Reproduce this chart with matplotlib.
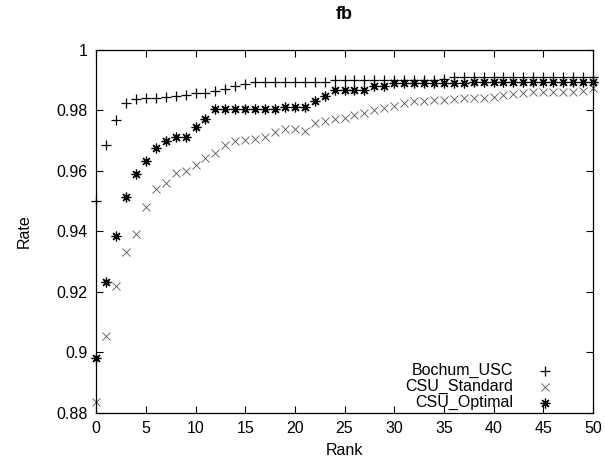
import numpy as np
import matplotlib
matplotlib.use("Agg")
import matplotlib.pyplot as plt
from matplotlib.ticker import FuncFormatter

plt.rcParams['font.family'] = ['Liberation Sans', 'DejaVu Sans']

# === data ===
rank = list(range(0, 51))

bochum_usc = [0.9500, 0.9686, 0.9769, 0.9824, 0.9837, 0.9840, 0.9840, 0.9845, 0.9846, 0.9850,
              0.9857, 0.9857, 0.9865, 0.9870, 0.9880, 0.9888, 0.9892, 0.9892, 0.9892, 0.9892,
              0.9893, 0.9893, 0.9893, 0.9895, 0.9900, 0.9900, 0.9900, 0.9900, 0.9900, 0.9900,
              0.9900, 0.9900, 0.9900, 0.9900, 0.9900, 0.9902, 0.9910, 0.9911, 0.9911, 0.9911,
              0.9911, 0.9911, 0.9911, 0.9911, 0.9911, 0.9911, 0.9911, 0.9911, 0.9911, 0.9911,
              0.9911]

csu_standard = [0.8837, 0.9055, 0.9218, 0.9333, 0.9390, 0.9480, 0.9540, 0.9560, 0.9592, 0.9598,
                0.9618, 0.9643, 0.9658, 0.9686, 0.9700, 0.9702, 0.9705, 0.9713, 0.9727, 0.9738,
                0.9738, 0.9733, 0.9758, 0.9763, 0.9770, 0.9774, 0.9785, 0.9790, 0.9802, 0.9806,
                0.9813, 0.9825, 0.9830, 0.9830, 0.9835, 0.9835, 0.9838, 0.9840, 0.9840, 0.9842,
                0.9845, 0.9850, 0.9855, 0.9857, 0.9860, 0.9860, 0.9860, 0.9860, 0.9862, 0.9865,
                0.9875]

csu_optimal = [0.8982, 0.9234, 0.9383, 0.9513, 0.9590, 0.9634, 0.9675, 0.9700, 0.9711, 0.9711,
               0.9744, 0.9770, 0.9805, 0.9805, 0.9805, 0.9805, 0.9805, 0.9805, 0.9805, 0.9810,
               0.9810, 0.9810, 0.9830, 0.9846, 0.9868, 0.9868, 0.9868, 0.9868, 0.9880, 0.9880,
               0.9890, 0.9890, 0.9890, 0.9890, 0.9890, 0.9890, 0.9890, 0.9890, 0.9895, 0.9895,
               0.9895, 0.9895, 0.9895, 0.9895, 0.9895, 0.9895, 0.9895, 0.9895, 0.9895, 0.9895,
               0.9895]

labels = ['Bochum_USC', 'CSU_Standard', 'CSU_Optimal']
markers = ['+', 'x', (8, 2, 0)]
sizes = [6.5, 5.5, 7]
widths = [0.9, 0.6, 0.9]
colors = ['black', '#555555', 'black']

# === plot ===
fig = plt.figure(figsize=(6.05, 4.65), dpi=100)
ax = fig.add_axes([0.159, 0.112, 0.821, 0.781])

series = [bochum_usc, csu_standard, csu_optimal]
for vals, lab, m, s, w, c in zip(series, labels, markers, sizes, widths, colors):
    ax.plot(rank, vals, linestyle='none', marker=m, markersize=s,
            markeredgewidth=w, color=c, label=lab, clip_on=False)

ax.set_xlim(0, 50)
ax.set_ylim(0.88, 1.0)
ax.set_xticks(np.arange(0, 51, 5))
ax.set_yticks(np.arange(0.88, 1.001, 0.02))
ax.yaxis.set_major_formatter(FuncFormatter(lambda v, p: '%g' % round(v, 2)))
ax.tick_params(direction='in', top=True, right=True, length=5, width=0.8,
               labelsize=11.5, pad=6)
for sp in ax.spines.values():
    sp.set_linewidth(0.9)

ax.set_title('fb', fontsize=13, fontweight='bold', pad=22)
ax.set_xlabel('Rank', fontsize=11.5, labelpad=5)
ax.set_ylabel('Rate', fontsize=11.5, labelpad=18)

# gnuplot-style key: text right-aligned, marker to the right
key_y = [0.116, 0.072, 0.028]
for lab, m, s, w, c, ky in zip(labels, markers, sizes, widths, colors, key_y):
    ax.text(0.839, ky, lab, transform=ax.transAxes, ha='right', va='center', fontsize=11.5)
    ax.plot([0.903], [ky], transform=ax.transAxes, linestyle='none', marker=m,
            markersize=s, markeredgewidth=w, color=c, clip_on=False)

fig.savefig('out.png', dpi=100)
